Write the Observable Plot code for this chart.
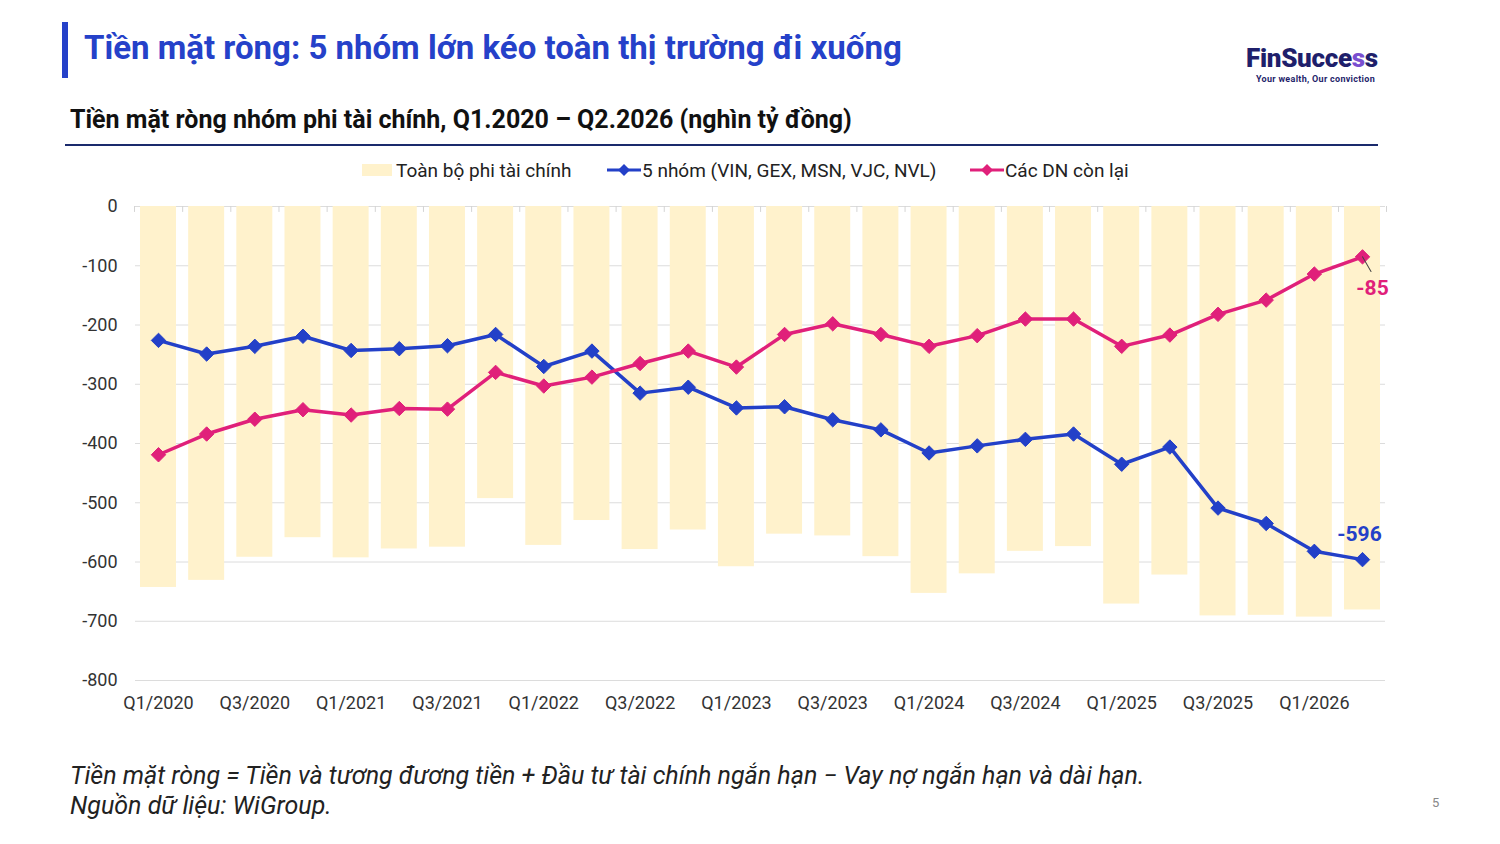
<!DOCTYPE html>
<html><head><meta charset="utf-8">
<script src="https://cdn.jsdelivr.net/npm/d3@7"></script>
<script src="https://cdn.jsdelivr.net/npm/@observablehq/plot@0.6"></script>
<style>
body{margin:0;width:1500px;height:844px;position:relative;background:#fff;font-family:Roboto,sans-serif;overflow:hidden}
.abs{position:absolute;white-space:nowrap}
#chart{position:absolute;left:0;top:190px}
.leg{position:absolute;top:158px;font-size:19px;color:#222;display:flex;align-items:center;white-space:nowrap;height:24px}
</style></head><body>
<div class="abs" style="left:62px;top:22px;width:6px;height:56px;background:#2541C9"></div>
<div class="abs" id="title" style="left:84px;top:27px;font-size:33px;font-weight:700;color:#2541C9;line-height:42px">Tiền mặt ròng: 5 nhóm lớn kéo toàn thị trường đi xuống</div>
<div class="abs" style="left:1246px;top:43px;font-size:26px;font-weight:900;color:#1f1f6b;line-height:30px;letter-spacing:-0.3px">FinSucce<span style="color:#7a4fd0">s</span>s</div>
<div class="abs" style="left:1256px;top:74px;font-size:9px;font-weight:700;color:#1f1f6b;letter-spacing:0.3px">Your wealth, Our conviction</div>
<div class="abs" id="sub" style="left:70px;top:105px;font-size:25px;font-weight:700;color:#111;line-height:30px">Tiền mặt ròng nhóm phi tài chính, Q1.2020 – Q2.2026 (nghìn tỷ đồng)</div>
<div class="abs" style="left:65px;top:144px;width:1313px;height:2px;background:#1a2a6c"></div>

<div class="leg" style="left:362px"><span style="display:inline-block;width:30px;height:12px;background:#FFF2CC;margin-right:4px"></span>Toàn bộ phi tài chính</div>
<div class="leg" style="left:607px"><svg width="34" height="14" style="margin-right:1px"><line x1="0" y1="7" x2="34" y2="7" stroke="#2340C8" stroke-width="3"/><path d="M17 1 L23 7 L17 13 L11 7 Z" fill="#2340C8"/></svg>5 nhóm (VIN, GEX, MSN, VJC, NVL)</div>
<div class="leg" style="left:970px"><svg width="34" height="14" style="margin-right:1px"><line x1="0" y1="7" x2="34" y2="7" stroke="#E0207A" stroke-width="3"/><path d="M17 1 L23 7 L17 13 L11 7 Z" fill="#E0207A"/></svg>Các DN còn lại</div>

<div id="chart"></div>

<div class="abs" style="left:70px;top:761px;font-size:25px;font-style:italic;color:#222;line-height:30px">Tiền mặt ròng = Tiền và tương đương tiền + Đầu tư tài chính ngắn hạn − Vay nợ ngắn hạn và dài hạn.<br>Nguồn dữ liệu: WiGroup.</div>
<div class="abs" style="left:1432px;top:795px;font-size:13px;color:#888">5</div>

<script>
const quarters = ["Q1/2020","Q2/2020","Q3/2020","Q4/2020","Q1/2021","Q2/2021","Q3/2021","Q4/2021","Q1/2022","Q2/2022","Q3/2022","Q4/2022","Q1/2023","Q2/2023","Q3/2023","Q4/2023","Q1/2024","Q2/2024","Q3/2024","Q4/2024","Q1/2025","Q2/2025","Q3/2025","Q4/2025","Q1/2026","Q2/2026"];
const totalNonFin = [-643,-631,-592,-559,-593,-578,-575,-493,-572,-530,-579,-546,-608,-553,-556,-591,-653,-620,-582,-574,-671,-622,-691,-690,-693,-681];
const top5Group = [-226,-249,-236,-219,-243,-240,-235,-216,-270,-244,-315,-305,-340,-338,-360,-377,-416,-404,-393,-384,-435,-406,-509,-535,-582,-596];
const restFirms = [-419,-384,-359,-343,-352,-341,-342,-280,-303,-288,-265,-244,-271,-216,-198,-216,-236,-218,-190,-190,-236,-217,-182,-158,-114,-85];
const xTickLabels = ["Q1/2020","Q3/2020","Q1/2021","Q3/2021","Q1/2022","Q3/2022","Q1/2023","Q3/2023","Q1/2024","Q3/2024","Q1/2025","Q3/2025","Q1/2026"];
const yTicks = [0,-100,-200,-300,-400,-500,-600,-700,-800];

const BLUE = "#2340C8", PINK = "#E0207A", CREAM = "#FFF2CC";
const rows = quarters.map((q,i)=>({q, total: totalNonFin[i], top5: top5Group[i], rest: restFirms[i]}));
const last = [rows[rows.length-1]];

const chart = Plot.plot({
  width:1500, height:530,
  marginLeft:135, marginRight:115, marginTop:16, marginBottom:40,
  style:{fontFamily:"Roboto, sans-serif", fontSize:"18px", color:"#333", background:"transparent", overflow:"visible"},
  x:{type:"band", domain:quarters, paddingInner:0.253, paddingOuter:0.104, round:false, label:null, tickSize:0, tickPadding:16, ticks:xTickLabels},
  y:{domain:[-800,0], ticks:yTicks, label:null, tickSize:0, tickPadding:18, tickFormat:d=>String(d)},
  marks:[
    Plot.gridY(yTicks, {stroke:"#dcdcdc", strokeOpacity:1, strokeWidth:1}),
    Plot.ruleX(rows, {x:"q", y1:0, y2:-10, dx:-24, stroke:"#d4d4d4", strokeWidth:1}),
    Plot.ruleX(last, {x:"q", y1:0, y2:-10, dx:24, stroke:"#d4d4d4", strokeWidth:1}),
    Plot.barY(rows, {x:"q", y:"total", fill:CREAM}),
    Plot.line(rows, {x:"q", y:"top5", stroke:BLUE, strokeWidth:3.5}),
    Plot.dot(rows, {x:"q", y:"top5", symbol:"diamond2", r:6.5, fill:BLUE, stroke:BLUE, strokeWidth:1}),
    Plot.line(rows, {x:"q", y:"rest", stroke:PINK, strokeWidth:3.5}),
    Plot.dot(rows, {x:"q", y:"rest", symbol:"diamond2", r:6.5, fill:PINK, stroke:PINK, strokeWidth:1}),
    Plot.vector(last, {x:"q", y:"rest", rotate:150, length:17, anchor:"start", stroke:"#444", strokeWidth:1,
      shape:{draw(ctx, l){ctx.moveTo(0,0); ctx.lineTo(0,-l);}}}),
    Plot.text(last, {x:"q", y:"rest", text:d=>String(d.rest), dx:10, dy:31, fill:PINK, fontWeight:700, fontSize:21}),
    Plot.text(last, {x:"q", y:"top5", text:d=>String(d.top5), dx:-3, dy:-25, fill:BLUE, fontWeight:700, fontSize:21})
  ]
});
document.getElementById("chart").appendChild(chart);
</script>
</body></html>
